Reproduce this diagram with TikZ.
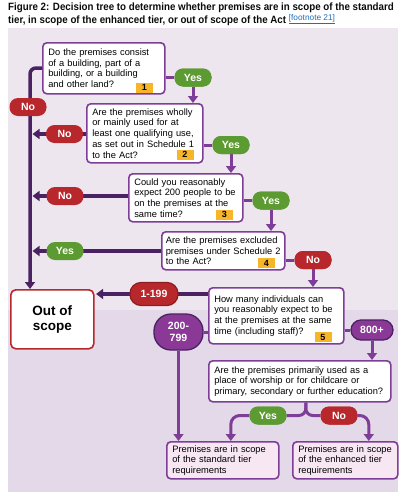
\documentclass[tikz,border=0pt]{standalone}
\usepackage{fontspec}
\setmainfont{Liberation Sans}
\newfontfamily\titlefont[FakeStretch=0.92]{Liberation Sans}
\usetikzlibrary{arrows.meta}
\definecolor{panelA}{HTML}{EDE6EF}
\definecolor{panelB}{HTML}{E4D9E9}
\definecolor{boxpurple}{HTML}{7E3E98}
\definecolor{darkpurple}{HTML}{4A2262}
\definecolor{pillpurple}{HTML}{8A3A96}
\definecolor{yesgreen}{HTML}{5C9A32}
\definecolor{nored}{HTML}{B8272C}
\definecolor{nodark}{HTML}{8E1C20}
\definecolor{tagyellow}{HTML}{F7B52A}
\definecolor{finalfill}{HTML}{F7E7F3}
\definecolor{linkblue}{HTML}{1D70B8}
\definecolor{titlecol}{HTML}{0B0C0C}
\tikzset{
  qbox/.style={draw=boxpurple, line width=1.6pt, fill=white, rounded corners=4pt,
    anchor=north west, align=left, inner xsep=5.3pt, inner ysep=3pt,
    font=\fontsize{9.3}{10.7}\selectfont, text=black},
  finalbox/.style={qbox, fill=finalfill},
  pill/.style={rounded corners=8.5pt, minimum height=18pt, minimum width=37pt,
    inner sep=1pt, text=white, font=\bfseries\fontsize{10.5}{11}\selectfont},
  yespill/.style={pill, fill=yesgreen},
  nopill/.style={pill, fill=nored},
  rangepill/.style={pill, fill=nored, draw=nodark, line width=1.2pt, minimum width=48pt,
    minimum height=23pt, rounded corners=11pt},
  numpill/.style={pill, fill=pillpurple, draw=darkpurple, line width=1.3pt},
  tagbox/.style={fill=tagyellow, minimum width=17pt, minimum height=10pt, inner sep=0pt,
    font=\bfseries\fontsize{9}{9}\selectfont},
  conn/.style={draw=boxpurple, line width=3pt},
  darkconn/.style={draw=darkpurple, line width=3.5pt},
  tip/.style={-{Triangle[width=10pt,length=7pt]}},
}
\begin{document}
\begin{tikzpicture}[x=1pt,y=-1pt]
\useasboundingbox (0,0) rectangle (403,499);
\fill[white] (0,0) rectangle (403,499);
% panel
\fill[panelA] (8,28) rectangle (398,310);
\fill[panelB] (8,310) rectangle (398,492);
% title
\node[anchor=north west, align=left, inner sep=0pt, text=titlecol,
  font=\titlefont\bfseries\fontsize{10.6}{12.8}\selectfont] (title) at (8,3)
  {Figure 2: Decision tree to determine whether premises are in scope of the standard\\
   tier, in scope of the enhanced tier, or out of scope of the Act
   \raisebox{3.5pt}{\normalfont\color{linkblue}\fontsize{8.3}{8.3}\selectfont\underline{[footnote 21]}}};

% boxes
\node[qbox, minimum width=122pt, minimum height=51pt, text width=111pt] (b1) at (42,42)
  {Do the premises consist\\of a building, part of a\\building, or a building\\and other land?};
\node[qbox, minimum width=116pt, minimum height=59pt, text width=105pt] (b2) at (86,103)
  {Are the premises wholly\\or mainly used for at\\least one qualifying use,\\as set out in Schedule 1\\to the Act?};
\node[qbox, minimum width=114pt, minimum height=48pt, text width=103pt] (b3) at (128,173)
  {Could you reasonably\\expect 200 people to be\\on the premises at the\\same time?};
\node[qbox, inner xsep=4pt, minimum width=123pt, minimum height=38pt, text width=115pt] (b4) at (161,231)
  {Are the premises excluded\\premises under Schedule 2\\to the Act?};
\node[qbox, minimum width=135pt, minimum height=56pt, text width=124pt] (b5) at (208,287)
  {How many individuals can\\you reasonably expect to be\\at the premises at the same\\time (including staff)?};
\node[qbox, minimum width=182pt, minimum height=41pt, text width=171pt] (b6) at (208,360)
  {Are the premises primarily used as a\\place of worship or for childcare or\\primary, secondary or further education?};
\node[finalbox, minimum width=112pt, minimum height=37pt, text width=101pt] (std) at (166,441)
  {Premises are in scope\\of the standard tier\\requirements};
\node[finalbox, minimum width=105pt, minimum height=37pt, text width=94pt] (enh) at (292,441)
  {Premises are in scope\\of the enhanced tier\\requirements};
\node[draw=nored, line width=1.6pt, fill=white, rounded corners=5pt, anchor=north west,
  minimum width=83pt, minimum height=59pt, align=center,
  font=\bfseries\fontsize{13.5}{15.5}\selectfont] (out) at (10,289) {Out of\\scope};

% tags
\node[tagbox] (t1) at (144.5,87.5) {1};
\node[tagbox] (t2) at (185,154.5) {2};
\node[tagbox] (t3) at (224.5,214.5) {3};
\node[tagbox] (t4) at (266.5,263) {4};
\node[tagbox] (t5) at (323,337) {5};

% reference coordinates
\coordinate (tk) at (30,0);
\coordinate (tkR) at (32.5,0);

% connectors: left trunk and "No"/"Yes" exits
\draw[darkconn, tip, rounded corners=6pt] (b1.west |- 0,68) -| (out.north -| tk);
\draw[darkconn, tip] (b2.west |- 0,134) -- (tkR |- 0,134);
\draw[darkconn, tip] (b3.west |- 0,196) -- (tkR |- 0,196);
\draw[darkconn, tip] (b4.west |- 0,251) -- (tkR |- 0,251);
\draw[darkconn, tip] (b5.west |- 0,294) -- ([xshift=1.5pt]out.east |- 0,294);

% right-hand yes/no flow
\node[yespill] (yes1) at (193,77.5) {Yes};
\node[yespill] (yes2) at (231,145) {Yes};
\node[yespill] (yes3) at (271,200.5) {Yes};
\node[nopill]  (no4)  at (313,260) {No};
\draw[conn] (b1.east |- yes1) -- (yes1);
\draw[conn] (b2.east |- yes2) -- (yes2);
\draw[conn] (b3.east |- yes3) -- (yes3);
\draw[conn] (b4.east |- no4) -- (no4);
\draw[conn, tip] (yes1.south) -- (yes1 |- b2.north);
\draw[conn, tip] (yes2.south) -- (yes2 |- b3.north);
\draw[conn, tip] (yes3.south) -- (yes3 |- b4.north);
\draw[conn, tip] (no4.south) -- (no4 |- b5.north);
\node[yespill] at (yes1) {Yes};
\node[yespill] at (yes2) {Yes};
\node[yespill] at (yes3) {Yes};
\node[nopill] at (no4) {No};

% pills on the left (drawn over the connectors)
\node[nopill] (no1) at (28,107) {No};
\node[nopill] (no2) at (64.5,134) {No};
\node[nopill] (no3) at (65,196) {No};
\node[yespill] (yes4) at (65,251) {Yes};
\node[rangepill] (p1) at (154,294) {1-199};

% count pills
\node[numpill, minimum width=49pt, minimum height=36pt, rounded corners=17pt, align=center,
  font=\bfseries\fontsize{10.5}{12.5}\selectfont] (p2) at (178.5,332) {200-\\799};
\node[numpill, minimum width=42pt, minimum height=20pt, rounded corners=10pt] (p3) at (372,330) {800+};
\draw[conn] (b5.west |- p2) -- (p2.east);
\draw[conn] (b5.east |- p3) -- (p3.west);
\draw[conn, tip] (p2.south) -- (p2 |- std.north);
\draw[conn, tip] (p3.south) -- (p3 |- b6.north);

% final split
\node[yespill] (yes6) at (268,415.5) {Yes};
\node[nopill]  (no6)  at (339,415.5) {No};
\coordinate (split) at ([xshift=6pt]b6.south);
\draw[conn, rounded corners=7pt] (split) |- (yes6.east);
\draw[conn, rounded corners=7pt] (split) |- (no6.west);
\draw[conn, tip, rounded corners=9pt] (yes6.west) -| ([xshift=8pt]std.north);
\draw[conn, tip, rounded corners=9pt] (no6.east) -| ([xshift=23.5pt]enh.north);
\node[yespill] at (yes6) {Yes};
\node[nopill] at (no6) {No};
\end{tikzpicture}
\end{document}
